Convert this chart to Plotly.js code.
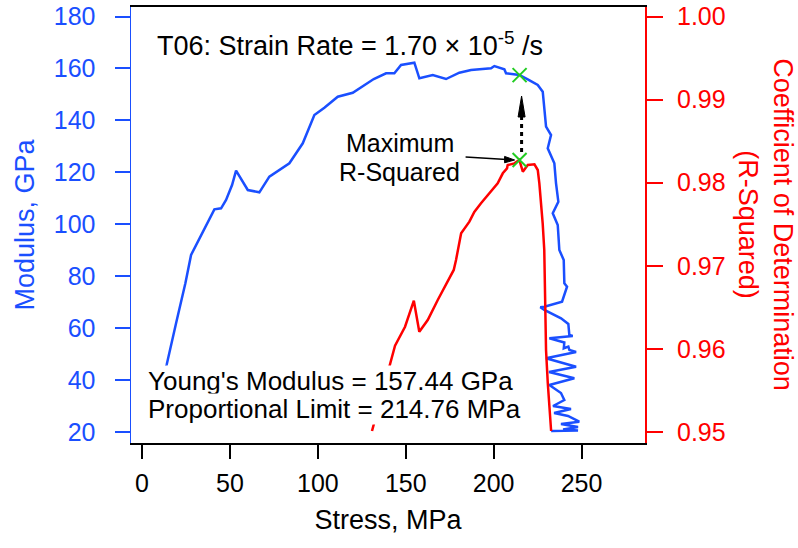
<!DOCTYPE html>
<html><head><meta charset="utf-8">
<script src="https://cdn.plot.ly/plotly-3.0.1.min.js"></script>
<style>html,body{margin:0;padding:0;background:#fff}#chart{width:798px;height:548px}</style>
</head><body><div id="chart"></div>
<script>
// Modulus vs stress (blue, left axis)
const modulusStress = [11.4, 14.05, 19.34, 24.63, 27.87, 30.72, 41.13, 44.94, 47.78, 51.19, 53.47, 60.13, 66.72, 72.41, 77.19, 83.79, 91.41, 98.01, 103.70, 111.32, 119.85, 131.80, 138.79, 143.52, 147.33, 154.89, 157.74, 165.36, 172.92, 180.49, 187.14, 198.52, 200.40, 206.09, 207.05, 214.62, 219.40, 225.09, 227.93, 228.84, 229.81, 232.65, 230.77, 234.53, 235.49, 236.80, 233.62, 236.46, 237.37, 239.87, 240.22, 241.75, 238.91, 228.84, 226.56, 228.84, 238.34, 242.49, 243.06, 245.0, 231.7, 240.2, 239.9, 242.5, 243.1, 246.9, 229.8, 246.9, 231.5, 245.9, 231.7, 238.3, 240.2, 233.8, 244.0, 234.4, 242.3, 248.7, 238.3, 248.0, 239.5, 248.0, 232.7];
const modulusGPa = [40.0, 46.07, 61.86, 77.26, 88.16, 92.01, 105.75, 106.14, 109.33, 115.11, 120.62, 113.18, 112.30, 118.31, 120.50, 123.47, 131.17, 142.07, 144.88, 149.11, 150.65, 155.93, 158.12, 158.12, 161.32, 162.20, 156.20, 157.47, 155.93, 158.35, 159.39, 160.05, 160.93, 159.66, 158.12, 157.47, 155.81, 153.62, 151.04, 145.26, 137.56, 134.36, 129.24, 123.47, 115.77, 108.68, 104.22, 99.71, 90.08, 86.23, 77.26, 75.95, 70.17, 68.25, 68.02, 66.98, 63.78, 61.59, 57.35, 56.97, 56.08, 54.46, 52.23, 52.85, 51.57, 50.80, 48.38, 45.14, 43.10, 40.68, 38.10, 35.02, 32.32, 30.01, 28.86, 27.32, 26.16, 23.97, 23.08, 21.93, 20.96, 20.58, 20.39];

// R-squared vs stress (red, right axis)
const r2Stress = [130.8, 141.2, 143.9, 149.6, 154.6, 157.7, 162.5, 168.2, 172.9, 177.3, 178.6, 181.5, 186.2, 189.0, 192.8, 198.5, 202.3, 205.2, 207.6, 208.0, 211.8, 214.6, 216.6, 219.4, 223.2, 225.1, 226.0, 227.9, 228.8, 229.8, 230.8, 232.7];
const r2Values = [0.95012, 0.95815, 0.96039, 0.96267, 0.96580, 0.96207, 0.96348, 0.96588, 0.96769, 0.96950, 0.97070, 0.97391, 0.97531, 0.97647, 0.97752, 0.97892, 0.97993, 0.98113, 0.98173, 0.98213, 0.98233, 0.98273, 0.98133, 0.98213, 0.98221, 0.98153, 0.97993, 0.97511, 0.97190, 0.95987, 0.95586, 0.95012];

const youngsModulus = 157.44;
const proportionalLimit = 214.76;
const maxR2 = 0.98273;

const xTicks = [0, 50, 100, 150, 200, 250];
const yTicks = [20, 40, 60, 80, 100, 120, 140, 160, 180];
const y2Ticks = [0.95, 0.96, 0.97, 0.98, 0.99, 1.00];
const y2TickText = ['0.95', '0.96', '0.97', '0.98', '0.99', '1.00'];

const FONT = 'Liberation Sans, Arial, Helvetica, sans-serif';
const BLUE = '#1a4fff';
const RED = '#ff0000';
const GREEN = '#22cc22';

const traces = [
  {x: modulusStress, y: modulusGPa, type: 'scatter', mode: 'lines', yaxis: 'y',
   line: {color: BLUE, width: 2.5}, hoverinfo: 'skip', showlegend: false},
  {x: r2Stress, y: r2Values, type: 'scatter', mode: 'lines', yaxis: 'y2',
   line: {color: RED, width: 2.5}, hoverinfo: 'skip', showlegend: false},
  {x: [proportionalLimit], y: [youngsModulus], type: 'scatter', mode: 'markers', yaxis: 'y',
   marker: {symbol: 'x-thin-open', size: 14, color: GREEN, line: {color: GREEN, width: 2}}, showlegend: false},
  {x: [proportionalLimit], y: [maxR2], type: 'scatter', mode: 'markers', yaxis: 'y2',
   marker: {symbol: 'x-thin-open', size: 14, color: GREEN, line: {color: GREEN, width: 2}}, showlegend: false}
];

const layout = {
  width: 798, height: 548,
  margin: {l: 131, r: 153, t: 7, b: 105},
  paper_bgcolor: '#fff', plot_bgcolor: '#fff',
  font: {family: FONT, size: 25, color: '#000'},
  showlegend: false,
  xaxis: {
    range: [-6.3, 286.1], tickvals: xTicks, ticks: 'outside', ticklen: 14, tickwidth: 2,
    tickcolor: '#000', showline: true, linecolor: '#000', linewidth: 2, mirror: true,
    showgrid: false, zeroline: false, tickfont: {family: FONT, size: 25, color: '#000'},
    ticklabelstandoff: 3,
    title: {text: 'Stress, MPa', font: {family: FONT, size: 27, color: '#000'}, standoff: 14}
  },
  yaxis: {
    range: [15.76, 183.66], tickvals: yTicks, ticks: 'outside', ticklen: 15, tickwidth: 2,
    tickcolor: BLUE, showline: true, linecolor: BLUE, linewidth: 1.5,
    showgrid: false, zeroline: false, tickfont: {family: FONT, size: 25, color: BLUE},
    ticklabelstandoff: 14,
    title: {text: 'Modulus, GPa', font: {family: FONT, size: 27, color: BLUE}, standoff: 11}
  },
  yaxis2: {
    overlaying: 'y', side: 'right', range: [0.948675, 1.001144],
    tickvals: y2Ticks, ticktext: y2TickText, ticks: 'outside', ticklen: 16, tickwidth: 2,
    tickcolor: RED, showline: true, linecolor: RED, linewidth: 2,
    showgrid: false, zeroline: false, tickfont: {family: FONT, size: 25, color: RED},
    ticklabelstandoff: 9
  },
  shapes: [
    // dotted arrow from maximum R-squared up to Young's modulus point
    {type: 'line', xref: 'x', yref: 'y2', xsizemode: 'pixel', ysizemode: 'pixel',
     xanchor: proportionalLimit, yanchor: maxR2, x0: 2, x1: 2, y0: 8, y1: 43,
     line: {color: '#000', width: 3, dash: '4px,4px'}},
    {type: 'path', xref: 'x', yref: 'y2', xsizemode: 'pixel', ysizemode: 'pixel',
     xanchor: proportionalLimit, yanchor: maxR2,
     path: 'M2,64 L-1.5,43 L5.5,43 Z', fillcolor: '#000', line: {color: '#000', width: 1}},
    // pointer arrow from the "Maximum R-Squared" label
    {type: 'line', xref: 'x', yref: 'y2', xsizemode: 'pixel', ysizemode: 'pixel',
     xanchor: proportionalLimit, yanchor: maxR2, x0: -54, y0: 3, x1: -13, y1: 0.5,
     line: {color: '#000', width: 1.5}},
    {type: 'path', xref: 'x', yref: 'y2', xsizemode: 'pixel', ysizemode: 'pixel',
     xanchor: proportionalLimit, yanchor: maxR2,
     path: 'M-5,0 L-15,3.6 L-15,-2.8 Z', fillcolor: '#000', line: {color: '#000', width: 1}}
  ],
  annotations: [
    {xref: 'paper', yref: 'paper', x: 0.0467, y: 0.915, xanchor: 'left', yanchor: 'middle',
     text: 'T06: Strain Rate = 1.70 × 10<sup>-5</sup> /s', showarrow: false,
     font: {family: FONT, size: 27, color: '#000'}},
    {xref: 'paper', yref: 'paper', x: 0.0311, y: 0.1422, xanchor: 'left', yanchor: 'middle',
     text: "Young's Modulus = 157.44 GPa", showarrow: false, bgcolor: '#fff', borderpad: 0,
     font: {family: FONT, size: 26, color: '#000'}},
    {xref: 'paper', yref: 'paper', x: 0.0311, y: 0.078, xanchor: 'left', yanchor: 'middle',
     text: 'Proportional Limit = 214.76 MPa', showarrow: false, bgcolor: '#fff', borderpad: 0,
     font: {family: FONT, size: 26, color: '#000'}},
    {xref: 'paper', yref: 'paper', x: 0.5233, y: 0.688, xanchor: 'center', yanchor: 'middle',
     text: 'Maximum', showarrow: false, borderpad: 0, font: {family: FONT, size: 25, color: '#000'}},
    {xref: 'paper', yref: 'paper', x: 0.5233, y: 0.6216, xanchor: 'center', yanchor: 'middle',
     text: 'R-Squared', showarrow: false, borderpad: 0, font: {family: FONT, size: 25, color: '#000'}},
    {xref: 'paper', yref: 'paper', x: 1.235, y: 0.5, xanchor: 'center', yanchor: 'middle',
     textangle: 90, text: 'Coefficient of Determination<br>(R-Squared)', showarrow: false,
     font: {family: FONT, size: 27, color: RED}}
  ]
};

Plotly.newPlot('chart', traces, layout, {displayModeBar: false, staticPlot: true});
</script>
</body></html>
